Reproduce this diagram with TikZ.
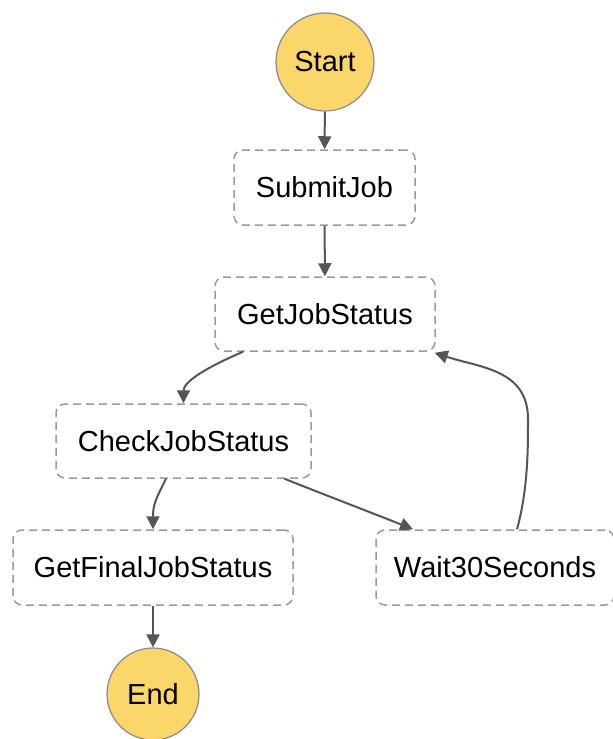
\documentclass[tikz,border=0pt]{standalone}
\usepackage{fontspec}
\setmainfont{Liberation Sans}
\usetikzlibrary{arrows.meta,calc}
\definecolor{circfill}{HTML}{FBD66A}
\definecolor{circline}{HTML}{8A8A8A}
\definecolor{boxline}{HTML}{9A9A9A}
\definecolor{arrowcol}{HTML}{555555}
\begin{document}
\begin{tikzpicture}[x=1pt,y=-1pt,
  every node/.style={font=\fontsize{29}{34}\selectfont, inner sep=0pt},
  termnode/.style={circle, draw=circline, line width=1.2pt, fill=circfill},
  statebox/.style={rectangle, rounded corners=9pt, draw=boxline, line width=1.5pt,
     dash pattern=on 8pt off 5pt, fill=white},
  conn/.style={draw=arrowcol, line width=2pt, -{Triangle[length=13pt,width=13pt]}}]
\useasboundingbox (0,0) rectangle (613,739);
\node[termnode, minimum size=98pt] (start) at (325,62) {Start};
\node[statebox, minimum width=181pt, minimum height=75pt] (submit) at (324.5,187.5) {SubmitJob};
\node[statebox, minimum width=220pt, minimum height=74pt] (gjs) at (325,314) {GetJobStatus};
\node[statebox, minimum width=255pt, minimum height=74pt] (cjs) at (183.5,441) {CheckJobStatus};
\node[statebox, minimum width=280pt, minimum height=75pt] (gfs) at (153,567.5) {GetFinalJobStatus};
\node[statebox, minimum width=238pt, minimum height=75pt] (wait) at (495,567.5) {Wait30Seconds};
\node[termnode, minimum size=92pt] (end) at (153,694) {End};

\draw[conn] (start) -- (submit);
\draw[conn] (submit) -- (gjs);
\draw[conn] ([xshift=-82pt]gjs.south) .. controls +(-35,15) and +(0,-22) .. (cjs.north);
\draw[conn] ([xshift=-17.5pt]cjs.south) .. controls +(-10,20) and +(0,-25) .. ([xshift=0pt]gfs.north);
\draw[conn] ([xshift=101pt]cjs.south) .. controls +(40,16) and +(-40,-16) .. ([xshift=-82pt]wait.north);
\draw[conn] ([xshift=22pt]wait.north) .. controls +(11,-40) and +(0,30) .. ++(11,-110)
   .. controls +(0,-50) and +(45,15) .. ([xshift=-1pt,yshift=-1pt]gjs.south east);
\draw[conn] (gfs) -- (end);
\end{tikzpicture}
\end{document}
